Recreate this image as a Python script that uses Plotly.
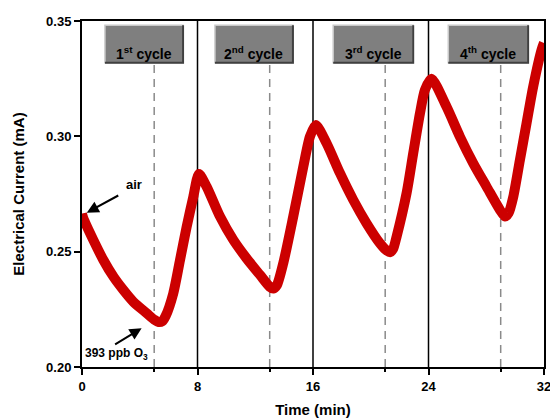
import plotly.graph_objects as go

# ---- data ----
time_min = [0.0, 0.09, 0.78, 1.48, 2.17, 2.86, 3.55, 4.48, 5.0, 5.3, 5.55, 5.8, 6.32, 6.79, 7.25, 7.71, 8.1,
            8.63, 9.56, 10.48, 11.4, 12.33, 13.0, 13.25, 13.5, 13.94, 14.63, 15.33, 15.79, 16.2,
            16.94, 17.87, 18.79, 19.71, 20.64, 21.1, 21.35, 21.55, 21.79, 22.48, 22.94, 23.41, 23.75, 24.2,
            25.25, 26.18, 27.1, 28.02, 28.95, 29.3, 29.55, 29.87, 30.33, 30.79, 31.25, 31.83, 32.0]
current_mA = [0.2665, 0.2645, 0.2551, 0.2464, 0.2392, 0.2334, 0.2283, 0.2233, 0.2205, 0.2195, 0.2198, 0.2222, 0.2319, 0.2464, 0.2608, 0.2738, 0.2837,
              0.2782, 0.2652, 0.2551, 0.2471, 0.2399, 0.2348, 0.2340, 0.2355, 0.2450, 0.2652, 0.2869, 0.2999, 0.3049,
              0.2970, 0.2840, 0.2724, 0.2623, 0.2536, 0.2505, 0.2498, 0.2512, 0.2565, 0.2753, 0.2926, 0.3100, 0.3201, 0.3250,
              0.3128, 0.2998, 0.2883, 0.2782, 0.2681, 0.2652, 0.2668, 0.2738, 0.2897, 0.3056, 0.3215, 0.3375, 0.3405]

cycle_labels = ["1<sup>st</sup> cycle", "2<sup>nd</sup> cycle", "3<sup>rd</sup> cycle", "4<sup>th</sup> cycle"]
cycle_box_x0 = [1.59, 9.21, 17.4, 25.37]
cycle_box_x1 = [7.0, 14.61, 22.94, 30.9]
exposure_on = [5, 13, 21, 29]      # dashed lines
cycle_bounds = [8, 16, 24]         # solid lines
x_ticks = [0, 8, 16, 24, 32]
y_ticks = [0.20, 0.25, 0.30, 0.35]

FONT = "Liberation Sans, Arial, sans-serif"

fig = go.Figure()
fig.add_trace(go.Scatter(x=time_min, y=current_mA, mode="lines",
                         line=dict(color="#cc0000", width=10, shape="spline", smoothing=0.7),
                         showlegend=False, hoverinfo="skip"))

shapes = []
for xv in cycle_bounds:
    shapes.append(dict(type="line", xref="x", yref="paper", x0=xv, x1=xv, y0=0, y1=1,
                       line=dict(color="black", width=1.5), layer="below"))
box_y0, box_y1 = 0.879, 0.988
for xv in exposure_on:
    shapes.append(dict(type="line", xref="x", yref="paper", x0=xv, x1=xv, y0=0, y1=box_y0,
                       line=dict(color="#8a8a8a", width=1.5, dash="8px,6px"), layer="below"))
annotations = []
for lab, a, b in zip(cycle_labels, cycle_box_x0, cycle_box_x1):
    shapes.append(dict(type="rect", xref="x", yref="paper", x0=a, x1=b, y0=box_y0, y1=box_y1,
                       fillcolor="#7f7f7f", line=dict(color="#c8c8c8", width=1.5)))
    shapes.append(dict(type="path", xref="x", yref="paper",
                       path=f"M {a},{box_y0} L {b},{box_y0} L {b},{box_y1}",
                       line=dict(color="#404040", width=2)))
    annotations.append(dict(x=(a + b) / 2, y=(box_y0 + box_y1) / 2, xref="x", yref="paper",
                            text=f"<b>{lab}</b>", showarrow=False, yshift=2,
                            font=dict(family=FONT, size=14, color="black")))

annotations.append(dict(x=0.33, y=0.2669, xref="x", yref="y", text="", showarrow=True,
                        ax=33, ay=-18, arrowhead=2, arrowsize=1.2, arrowwidth=2, arrowcolor="black"))
annotations.append(dict(x=3.6, y=0.279, xref="x", yref="y", text="<b>air</b>", showarrow=False,
                        font=dict(family=FONT, size=13, color="black")))
annotations.append(dict(x=4.13, y=0.2168, xref="x", yref="y", text="", showarrow=True,
                        ax=-28, ay=17, arrowhead=2, arrowsize=1.2, arrowwidth=2, arrowcolor="black"))
annotations.append(dict(x=0.1, y=0.2055, xref="x", yref="y", xanchor="left",
                        text="<b>393 ppb O<sub>3</sub></b>", showarrow=False,
                        font=dict(family=FONT, size=12, color="black")))

axis_common = dict(showline=True, linecolor="black", linewidth=2, mirror=True,
                   ticks="outside", ticklen=6, tickwidth=2, tickcolor="black",
                   showgrid=False, zeroline=False, automargin=False,
                   ticklabeloverflow="allow",
                   tickfont=dict(family=FONT, size=13, color="black", weight="bold"))

fig.update_layout(
    width=550, height=418,
    margin=dict(l=82, r=6, t=21, b=51),
    plot_bgcolor="white", paper_bgcolor="white",
    shapes=shapes, annotations=annotations,
    xaxis=dict(range=[0, 32], tickvals=x_ticks,
               minor=dict(tickmode="array", tickvals=exposure_on, ticks="outside",
                          ticklen=3, tickwidth=1.5, tickcolor="black"),
               title=dict(text="<b>Time (min)</b>", font=dict(family=FONT, size=15, color="black"), standoff=12),
               **axis_common),
    yaxis=dict(range=[0.20, 0.35], tickvals=y_ticks, tickformat=".2f",
               title=dict(text="<b>Electrical Current (mA)</b>", font=dict(family=FONT, size=15, color="black"), standoff=18),
               **axis_common),
)

# remove the default page margin so the 550x418 figure fills the window exactly
fig.write_html("out.html",
               config={"displayModeBar": False},
               post_script="document.body.style.margin='0';"
                           "document.body.style.overflow='hidden';"
                           "document.documentElement.style.overflow='hidden';")
